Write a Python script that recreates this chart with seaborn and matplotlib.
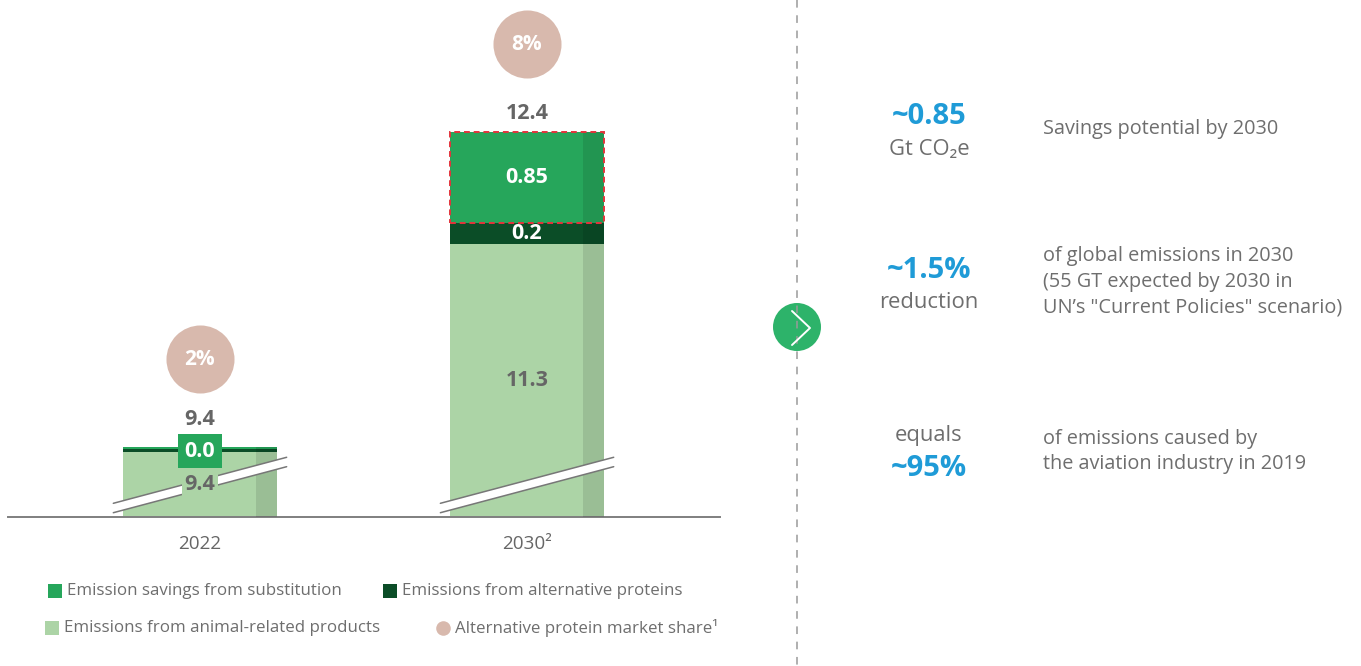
import matplotlib
matplotlib.use('Agg')
import matplotlib.pyplot as plt
import seaborn as sns
import pandas as pd
from matplotlib.patches import Rectangle, Circle

# data
years = ['2022', '2030']
year_labels = ['2022', '2030²']
animal = [9.35, 11.3]
alt_proteins = [0.03, 0.2]
savings = [0.02, 0.85]
total_labels = ['9.4', '12.4']
animal_labels = ['9.4', '11.3']
alt_labels = ['', '0.2']
savings_labels = ['0.0', '0.85']
market_share = ['2%', '8%']

legend_labels = ['Emission savings from substitution', 'Emissions from alternative proteins',
                 'Emissions from animal-related products', 'Alternative protein market share¹']

c_sav = '#26a65b'
c_alt = '#0b4d27'
c_animal = '#acd4a6'
c_share = '#d8b9ad'
c_text = '#666666'
c_right = '#6e6e6e'
c_blue = '#1f9bd7'

sns.set_theme(style='white')
plt.rcParams['font.family'] = ['Open Sans', 'DejaVu Sans']

df = pd.DataFrame({'year': years, 'animal': animal, 'alt': alt_proteins, 'savings': savings})
df['alt_top'] = df['animal'] + df['alt']
df['total'] = df['alt_top'] + df['savings']

W, H = 1361, 666
fig = plt.figure(figsize=(W / 100, H / 100), dpi=100)
ax = fig.add_axes([8 / W, 149 / H, 712 / W, 517 / H])

# broken axis: bars start at y0, ppu px per unit
y0 = 8.744
ppu = 106.8
bw = 0.471
sns.barplot(data=df, x='year', y='total', color=c_sav, width=bw, saturation=1,
            errorbar=None, linewidth=0, ax=ax)
sns.barplot(data=df, x='year', y='alt_top', color=c_alt, width=bw, saturation=1,
            errorbar=None, linewidth=0, ax=ax)
sns.barplot(data=df, x='year', y='animal', color=c_animal, width=bw, saturation=1,
            errorbar=None, linewidth=0, ax=ax)
ax.set_ylim(y0, y0 + 517 / ppu)
ax.set_xlim(-0.587, 1.59)

bars = ax.patches[:len(years)]
for i, p in enumerate(bars):
    x0, w = p.get_x(), p.get_width()
    xc = x0 + w / 2
    tot = df['total'][i]
    # shaded right strip
    ax.add_patch(Rectangle((x0 + w * 0.863, y0), w * 0.137, tot - y0, color='black',
                           alpha=0.1, lw=0, zorder=3))
    # highlighted savings box for the projection
    if i == len(years) - 1:
        ax.add_patch(Rectangle((x0, df['alt_top'][i]), w, df['savings'][i], fill=False,
                               edgecolor='#e3343c', lw=1.4, ls=(0, (3, 2)), zorder=5))
    # axis break band
    yc = y0 + 32 / ppu
    dx = 0.265
    dy = 0.266 * 86.5 / ppu
    th = 4.7 / ppu
    xs = [xc - dx, xc + dx, xc + dx, xc - dx]
    ys = [yc - dy + th, yc + dy + th, yc + dy - th, yc - dy - th]
    ax.fill(xs, ys, color='white', lw=0, zorder=6, clip_on=False)
    for s in (th, -th):
        ax.plot([xc - dx, xc + dx], [yc - dy + s, yc + dy + s], color='#777777', lw=1.1,
                zorder=7, clip_on=False)

    # labels
    ax.text(xc, (y0 + df['animal'][i]) / 2, animal_labels[i], ha='center', va='center',
            fontsize=15.5, fontweight='bold', color=c_text, zorder=8,
            bbox=dict(boxstyle='square,pad=0.1', fc=c_animal, ec='none'))
    if alt_labels[i]:
        ax.text(xc, df['animal'][i] + df['alt'][i] / 2, alt_labels[i], ha='center',
                va='center', fontsize=15.5, fontweight='bold', color='white', zorder=8)
    small = df['savings'][i] < 0.3
    ax.text(xc, df['alt_top'][i] + df['savings'][i] / 2 - (0.03 if small else 0),
            savings_labels[i], ha='center', va='center', fontsize=15.5, fontweight='bold',
            color='white', zorder=8,
            bbox=dict(boxstyle='square,pad=0.3', fc=c_sav, ec='none') if small else None)
    off = 20 if small else 13
    ax.annotate(total_labels[i], (xc, tot), xytext=(0, off), textcoords='offset points',
                ha='center', va='center', fontsize=15.5, fontweight='bold', color=c_text)

# market share bubbles
ax.scatter(range(len(years)), df['total'] + 0.82, s=2400, color=c_share, lw=0,
           zorder=4, clip_on=False)
for i, t in enumerate(market_share):
    ax.text(i, df['total'][i] + 0.82, t, ha='center', va='center', fontsize=15,
            fontweight='bold', color='white', zorder=5)

sns.despine(ax=ax, left=True)
ax.spines['bottom'].set_color('#7f7f7f')
ax.spines['bottom'].set_linewidth(1.4)
ax.set_yticks([])
ax.set_xlabel('')
ax.set_ylabel('')
ax.set_xticks(range(len(years)))
ax.set_xticklabels(year_labels, fontsize=13.6, color=c_text)
ax.tick_params(axis='x', length=0, pad=13)

# overlay in pixel coords for legend and side panel
ov = fig.add_axes([0, 0, 1, 1])
ov.set_xlim(0, W)
ov.set_ylim(H, 0)
ov.axis('off')
ov.patch.set_alpha(0)

leg = [(55, 591, 's', c_sav), (390, 591, 's', c_alt), (52, 628, 's', c_animal),
       (443, 628, 'o', c_share)]
for (x, y, m, c), lab in zip(leg, legend_labels):
    ov.scatter([x], [y], marker=m, s=100 if m == 's' else 110, color=c, lw=0)
    ov.text(x + 12, y, lab, ha='left', va='center', fontsize=12.2, color=c_right)

ov.plot([797, 797], [0, H], color='#9a9a9a', lw=1.1, ls=(0, (5, 5)))
ov.add_patch(Circle((797, 327), 24, color='#2db36a', lw=0))
ov.plot([792, 810, 792], [311, 328, 345], color='white', lw=1.4)

big = [('~0.85', 117), ('~1.5%', 270), ('~95%', 469)]
for t, y in big:
    ov.text(929, y, t, ha='center', va='center', fontsize=21, fontweight='bold', color=c_blue)
small_t = [('Gt CO₂e', 150), ('reduction', 303), ('equals', 435)]
for t, y in small_t:
    ov.text(929, y, t, ha='center', va='center', fontsize=15.8, color=c_right)
desc = [('Savings potential by 2030', 129),
        ('of global emissions in 2030', 256),
        ('(55 GT expected by 2030 in', 282),
        ('UN’s "Current Policies" scenario)', 307),
        ('of emissions caused by', 439),
        ('the aviation industry in 2019', 464)]
for t, y in desc:
    ov.text(1043, y, t, ha='left', va='center', fontsize=14.3, color=c_right)

fig.savefig('out.png', dpi=100)
